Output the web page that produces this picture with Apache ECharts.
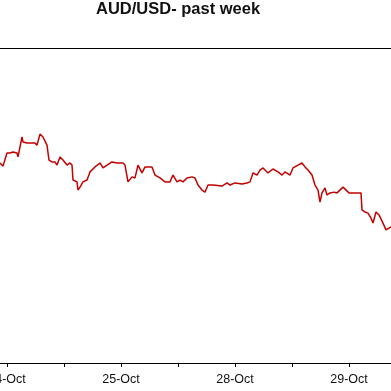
<!DOCTYPE html>
<html>
<head>
<meta charset="utf-8">
<script src="https://cdn.jsdelivr.net/npm/echarts@6/dist/echarts.min.js"></script>
<style>
html,body{margin:0;padding:0;background:#fff;}
#chart{width:391px;height:391px;}
</style>
</head>
<body>
<div id="chart"></div>
<script>
// Trading-day position (0 = 24-Oct, 1 = 25-Oct, 2 = 28-Oct, 3 = 29-Oct)
var times = [-0.0614,-0.0351,0,0.0263,0.0526,0.0877,0.0965,0.1140,0.1316,0.1404,0.1754,0.2456,0.2632,0.2895,0.3158,0.3509,0.3684,0.3947,0.4211,0.4386,0.4649,0.4912,0.5263,0.5526,0.5702,0.5789,0.6140,0.6228,0.6404,0.6667,0.7018,0.7281,0.7719,0.8158,0.8421,0.8772,0.9211,0.9649,1.0175,1.0351,1.0614,1.0965,1.1228,1.1491,1.1842,1.2105,1.2368,1.2719,1.2982,1.3421,1.3860,1.4298,1.4561,1.4912,1.5175,1.5439,1.5789,1.6228,1.6491,1.6754,1.7105,1.7368,1.7632,1.8070,1.8860,1.9298,1.9561,2.0000,2.0614,2.1053,2.1316,2.1579,2.1930,2.2193,2.2456,2.2632,2.2895,2.3333,2.3772,2.4123,2.4386,2.4825,2.5088,2.5526,2.5877,2.6140,2.6404,2.6754,2.7018,2.7281,2.7456,2.7632,2.7895,2.8070,2.8333,2.8684,2.8947,2.9474,2.9649,3.0000,3.1053,3.1140,3.1404,3.1667,3.1930,3.2105,3.2368,3.2632,3.2982,3.3246,3.3509,3.3684];
var rates = [0.68562,0.68550,0.68600,0.68600,0.68604,0.68600,0.68585,0.68581,0.68661,0.68642,0.68638,0.68638,0.68630,0.68672,0.68661,0.68630,0.68573,0.68566,0.68566,0.68554,0.68585,0.68573,0.68554,0.68562,0.68554,0.68497,0.68490,0.68459,0.68470,0.68490,0.68497,0.68528,0.68547,0.68562,0.68543,0.68554,0.68566,0.68562,0.68562,0.68554,0.68490,0.68509,0.68505,0.68554,0.68524,0.68547,0.68547,0.68547,0.68516,0.68505,0.68490,0.68490,0.68516,0.68490,0.68497,0.68490,0.68505,0.68509,0.68505,0.68478,0.68459,0.68451,0.68478,0.68478,0.68474,0.68486,0.68478,0.68486,0.68482,0.68486,0.68490,0.68524,0.68516,0.68535,0.68543,0.68535,0.68524,0.68539,0.68528,0.68516,0.68528,0.68516,0.68543,0.68554,0.68562,0.68547,0.68535,0.68516,0.68478,0.68459,0.68413,0.68448,0.68467,0.68440,0.68448,0.68451,0.68448,0.68470,0.68467,0.68448,0.68448,0.68383,0.68375,0.68371,0.68352,0.68333,0.68375,0.68364,0.68333,0.68307,0.68314,0.68318];
var dayLabels = ['24-Oct','25-Oct','28-Oct','29-Oct'];
var tickPositions = [0, 0.5, 1, 1.5, 2, 2.5, 3];
var labelPositions = [0, 1, 2, 3];
var chartTitle = 'AUD/USD- past week';

var seriesData = times.map(function (t, i) { return [t, rates[i]]; });

var chart = echarts.init(document.getElementById('chart'), null, {renderer: 'canvas'});
chart.setOption({
  animation: false,
  backgroundColor: '#ffffff',
  title: {
    text: chartTitle,
    left: 96,
    top: 1,
    padding: 0,
    textStyle: {fontFamily: 'Arial, "Liberation Sans", sans-serif', fontSize: 16.5, fontWeight: 'bold', color: '#111'}
  },
  grid: {left: 0, right: 0, top: 48, bottom: 28, containLabel: false, outerBoundsMode: 'none'},
  xAxis: [{
    type: 'value',
    min: -0.0614,
    max: 3.3684,
    position: 'bottom',
    splitLine: {show: false},
    axisLine: {show: true, lineStyle: {color: '#000', width: 1}},
    axisTick: {show: true, length: 4, lineStyle: {color: '#000'}, customValues: tickPositions},
    axisLabel: {
      color: '#111',
      fontFamily: 'Arial, "Liberation Sans", sans-serif',
      fontSize: 12.5,
      margin: 10,
      customValues: labelPositions,
      formatter: function (v) {
        var r = Math.round(v);
        return dayLabels[r] || '';
      }
    }
  }, {
    type: 'value',
    min: -0.0614,
    max: 3.3684,
    position: 'top',
    splitLine: {show: false},
    axisLine: {show: true, lineStyle: {color: '#000', width: 1}},
    axisTick: {show: false},
    axisLabel: {show: false}
  }],
  yAxis: {
    type: 'value',
    min: 0.678,
    max: 0.690,
    show: false,
    splitLine: {show: false}
  },
  series: [{
    type: 'line',
    data: seriesData,
    showSymbol: false,
    symbol: 'none',
    lineStyle: {color: '#c40000', width: 1.5},
    clip: false
  }]
});
</script>
</body>
</html>
